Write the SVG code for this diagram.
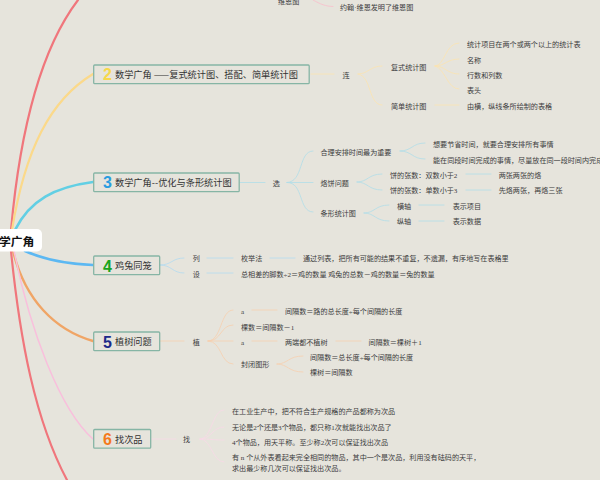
<svg xmlns="http://www.w3.org/2000/svg" width="600" height="480" viewBox="0 0 600 480">
<style>
text{font-family:"Liberation Serif","Noto Sans CJK SC",serif;font-size:7.1px;fill:#3c3c3c}
.t{font-family:"Noto Sans CJK SC","Liberation Sans",sans-serif;font-size:9.2px;fill:#333}
.n{font-family:"Liberation Sans","Noto Sans CJK SC",sans-serif;font-size:16px;font-weight:700}
.b{fill:#e6e4dc;stroke:#86b5a5;stroke-width:1.3}
.c path{fill:none;stroke-linecap:round}
.y path{stroke:#fbe3b0;stroke-width:.8}
.u path{stroke:#b0dde8;stroke-width:.8}
.l path{stroke:#b3daf0;stroke-width:.8}
.o path{stroke:#f6cfae;stroke-width:.8}
.p path{stroke:#f8d8e6;stroke-width:.8}
</style>
<rect width="600" height="480" fill="#e6e4dc"/>
<g id="connectors" class="c">
<path d="M11 230C20 130 40 50 78 0" stroke="#f0767c" stroke-width="2.200"/>
<path d="M12 230C25 150 50 100 93 74" stroke="#fbd98a" stroke-width="2.200"/>
<path d="M15 230C30 200 55 187 93 182" stroke="#62cfe4" stroke-width="2.600"/>
<path d="M25 251C45 260 70 264 93 265" stroke="#5cb8f2" stroke-width="2.600"/>
<path d="M13 251C25 300 55 330 93 341" stroke="#f0a566" stroke-width="2.400"/>
<path d="M14 251C30 330 60 410 93 439" stroke="#f9bfdc" stroke-width="1.500"/>
<path d="M11 251C20 340 35 420 67 480" stroke="#f0767c" stroke-width="2.200"/>
<path d="M313 0C320 4 326 6.500 333 6.500" stroke="#f6c6cf" stroke-width="1"/>
<g class="y">
<path d="M311 74H334"/><path d="M358 74C368 74 370 66 382 66"/><path d="M358 74C372 76 368 105 382 105"/>
<path d="M435 66C445 66 445 43 459 43"/><path d="M435 66C445 66 447 59 459 59"/><path d="M435 66C445 66 447 74 459 74"/><path d="M435 66C445 68 447 89 459 89"/><path d="M435 105H459"/>
</g>
<g class="u">
<path d="M240 182.500H265"/><path d="M287 182.500C304 182 298 151 313 151"/><path d="M287 182.500H313"/><path d="M287 182.500C304 182 298 212 313 212"/>
<path d="M400 151C412 151 412 143 425 143"/><path d="M400 151C412 151 412 159 425 159"/>
<path d="M357 182C368 182 368 174 382 174"/><path d="M357 182C368 182 368 190 382 190"/><path d="M466 174H491"/><path d="M466 190H491"/>
<path d="M364 213C375 213 375 205 389 205"/><path d="M364 213C375 213 375 221 389 221"/><path d="M419 205H444"/><path d="M419 221H444"/>
</g>
<g class="l">
<path d="M160 265C172 265 172 258 184 258"/><path d="M160 265C172 265 172 273 184 273"/><path d="M207 258H233"/><path d="M207 273H233"/><path d="M270 258H295"/>
</g>
<g class="o">
<path d="M160 341H184"/><path d="M208 341C222 341 220 310 233 310"/><path d="M208 341C222 341 220 325 233 325"/><path d="M208 341H233"/><path d="M208 341C222 341 220 364 233 364"/>
<path d="M252 310H277"/><path d="M252 341H277"/><path d="M336 341H361"/><path d="M277 364C288 364 288 356 303 356"/><path d="M277 364C288 364 288 372 303 372"/>
</g>
<g class="p">
<path d="M151 439H176"/><path d="M200 439C212 439 212 410 224 410"/><path d="M200 439C212 439 212 427 224 427"/><path d="M200 439C212 439 212 440 224 440"/><path d="M200 439C212 439 212 462 224 462"/>
</g>
</g>
<g id="root"><rect x="-20" y="229" width="62" height="22.500" rx="5" fill="#fff"/><text x="-1" y="245.500" style="font-family:'Noto Sans CJK SC',sans-serif;font-size:11.800px;fill:#111;font-weight:700">学广角</text></g>
<g id="n2"><rect class="b" x="93.700" y="65" width="215.500" height="18.700" rx="1"/><text class="n" x="103" y="80" style="fill:#f7d84a">2</text><text class="t" x="115" y="78.300">数学广角 ——复式统计图、搭配、简单统计图</text></g>
<g id="n3"><rect class="b" x="93.700" y="173" width="145.500" height="18.700" rx="1"/><text class="n" x="103" y="188" style="fill:#2a9de0">3</text><text class="t" x="115" y="186">数学广角--优化与条形统计图</text></g>
<g id="n4"><rect class="b" x="93.700" y="256" width="66" height="18.700" rx="1"/><text class="n" x="103" y="271.700" style="fill:#1aa51e">4</text><text class="t" x="115" y="269.300">鸡兔同笼</text></g>
<g id="n5"><rect class="b" x="93.700" y="332" width="66" height="18.700" rx="1"/><text class="n" x="103" y="347.500" style="fill:#1d2a8a">5</text><text class="t" x="115" y="345">植树问题</text></g>
<g id="n6"><rect class="b" x="93.700" y="429.500" width="57" height="18.700" rx="1"/><text class="n" x="103" y="445" style="fill:#f47a1c">6</text><text class="t" x="115" y="442.600">找次品</text></g>
<g id="labels">
<text x="278" y="4.400">维恩图</text><text x="340" y="9.700">约翰·维恩发明了维恩图</text>
<text x="342.500" y="78">连</text><text x="391" y="70">复式统计图</text><text x="391" y="108.500">简单统计图</text>
<text x="467" y="47">统计项目在两个或两个以上的统计表</text><text x="467" y="62.500">名称</text><text x="467" y="78">行数和列数</text><text x="467" y="93">表头</text><text x="467" y="108.500">由横，纵线条所绘制的表格</text>
<text x="272.700" y="185.500">选</text><text x="320.500" y="155">合理安排时间最为重要</text><text x="320.500" y="185.500">烙饼问题</text><text x="320.500" y="216">条形统计图</text>
<text x="433" y="147">想要节省时间，就要合理安排所有事情</text><text x="433" y="163">能在同段时间完成的事情，尽量放在同一段时间内完成</text>
<text x="390" y="178">饼的张数：双数小于2</text><text x="390" y="193">饼的张数：单数小于3</text><text x="498.700" y="178">两张两张的烙</text><text x="498.700" y="193">先烙两张，再烙三张</text>
<text x="397" y="208.500">横轴</text><text x="397" y="224">纵轴</text><text x="452.700" y="208.500">表示项目</text><text x="452.700" y="224">表示数据</text>
<text x="192.700" y="261">列</text><text x="192.700" y="277">设</text><text x="241" y="261">枚举法</text><text x="303" y="261">通过列表，把所有可能的结果不重复，不遗漏，有序地写在表格里</text><text x="241" y="277">总相差的脚数÷2＝鸡的数量 鸡兔的总数－鸡的数量＝兔的数量</text>
<text x="192.700" y="344.500">植</text><text x="241" y="313.700">a</text><text x="241" y="329.500">棵数＝间隔数－1</text><text x="241" y="344.500">a</text><text x="241" y="367">封闭图形</text>
<text x="285" y="313.700">间隔数＝路的总长度÷每个间隔的长度</text><text x="285" y="344.500">两端都不植树</text><text x="368.500" y="344.500">间隔数＝棵树＋1</text><text x="310" y="359.700">间隔数＝总长度÷每个间隔的长度</text><text x="310" y="375">棵树＝间隔数</text>
<text x="183" y="442">找</text><text x="232" y="414">在工业生产中，把不符合生产规格的产品都称为次品</text><text x="232" y="429.500">无论是2个还是3个物品，都只称1次就能找出次品了</text><text x="232" y="444.500">4个物品，用天平称。至少称2次可以保证找出次品</text><text x="232" y="459.700">有 n 个从外表看起来完全相同的物品，其中一个是次品，利用没有砝码的天平，</text><text x="232" y="470.500">求出最少称几次可以保证找出次品。</text>
</g>
</svg>
